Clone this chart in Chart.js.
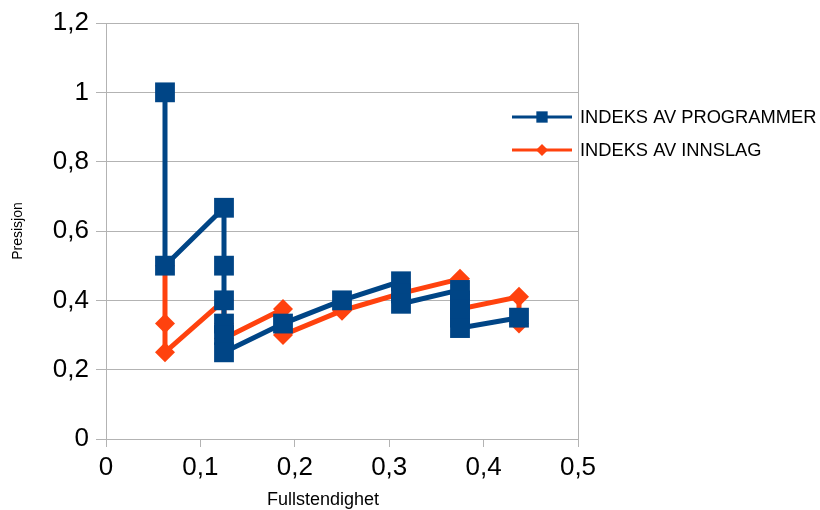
<!DOCTYPE html>
<html>
<head>
<meta charset="utf-8">
<script src="https://cdn.jsdelivr.net/npm/chart.js@4/dist/chart.umd.min.js"></script>
<style>
  html, body { margin: 0; padding: 0; background: #ffffff; }
  #wrap { width: 820px; height: 510px; }
</style>
</head>
<body>
<div id="wrap"><canvas id="c" width="820" height="510"></canvas></div>
<script>
// ---- data ----
const seriesNames = ['INDEKS AV PROGRAMMER', 'INDEKS AV INNSLAG'];

const programX = [0.0625, 0.0625, 0.125, 0.125, 0.125, 0.125, 0.125, 0.125, 0.1875, 0.25, 0.3125, 0.3125, 0.3125, 0.375, 0.375, 0.375, 0.375, 0.375, 0.4375];
const programY = [1.0, 0.5, 0.667, 0.5, 0.4, 0.333, 0.3, 0.25, 0.333, 0.4, 0.455, 0.42, 0.39, 0.43, 0.4, 0.375, 0.35, 0.32, 0.35];

const innslagX = [0.0625, 0.0625, 0.0625, 0.125, 0.125, 0.125, 0.1875, 0.1875, 0.25, 0.3125, 0.375, 0.375, 0.375, 0.4375, 0.4375];
const innslagY = [0.5, 0.333, 0.25, 0.4, 0.333, 0.29, 0.375, 0.3, 0.37, 0.42, 0.462, 0.417, 0.375, 0.41, 0.333];

const xTicks = [0, 0.1, 0.2, 0.3, 0.4, 0.5];
const xTickLabels = ['0', '0,1', '0,2', '0,3', '0,4', '0,5'];
const yTicks = [0, 0.2, 0.4, 0.6, 0.8, 1.0, 1.2];
const yTickLabels = ['0', '0,2', '0,4', '0,6', '0,8', '1', '1,2'];

const xTitle = 'Fullstendighet';
const yTitle = 'Presisjon';

// ---- styling ----
const BLUE = '#004586';
const ORANGE = '#ff420e';
const GRID = '#b3b3b3';
const FONT = '"Liberation Sans", Arial, sans-serif';

function toPoints(xs, ys) { return xs.map((x, i) => ({ x: x, y: ys[i] })); }

const legendPlugin = {
  id: 'lineLegend',
  afterDraw(chart) {
    const ctx = chart.ctx;
    const items = chart.data.datasets;
    ctx.save();
    items.forEach((ds, i) => {
      const y = 117 + i * 33;
      const x0 = 512, x1 = 572;
      ctx.strokeStyle = ds.borderColor;
      ctx.lineWidth = 3;
      ctx.beginPath();
      ctx.moveTo(x0, y);
      ctx.lineTo(x1, y);
      ctx.stroke();
      ctx.fillStyle = ds.backgroundColor;
      Chart.helpers.drawPoint(ctx, {
        pointStyle: ds.pointStyle,
        radius: ds.pointStyle === 'rect' ? 8 : 6,
        rotation: 0,
        borderWidth: 0
      }, (x0 + x1) / 2, y);
      ctx.fillStyle = '#000000';
      ctx.font = '18.3px ' + FONT;
      ctx.textBaseline = 'middle';
      ctx.textAlign = 'left';
      ctx.fillText(ds.label, 580, y + 1);
    });
    // x-axis title (sits left of the plot centre in the reference)
    ctx.font = '18px ' + FONT;
    ctx.fillStyle = '#000000';
    ctx.textAlign = 'center';
    ctx.textBaseline = 'middle';
    ctx.fillText(xTitle, 323, 500);
    ctx.restore();
  }
};

new Chart(document.getElementById('c'), {
  type: 'scatter',
  data: {
    datasets: [
      {
        label: seriesNames[0],
        data: toPoints(programX, programY),
        showLine: true,
        borderColor: BLUE,
        backgroundColor: BLUE,
        borderWidth: 5,
        pointStyle: 'rect',
        pointRadius: 14,
        pointHoverRadius: 14,
        pointBorderWidth: 0,
        tension: 0
      },
      {
        label: seriesNames[1],
        data: toPoints(innslagX, innslagY),
        showLine: true,
        borderColor: ORANGE,
        backgroundColor: ORANGE,
        borderWidth: 5,
        pointStyle: 'rectRot',
        pointRadius: 10,
        pointHoverRadius: 10,
        pointBorderWidth: 0,
        tension: 0
      }
    ]
  },
  options: {
    responsive: false,
    animation: false,
    devicePixelRatio: 1,
    layout: { padding: { left: 0, right: 242, top: 23, bottom: 0 } },
    plugins: {
      legend: { display: false },
      tooltip: { enabled: false }
    },
    scales: {
      x: {
        type: 'linear',
        min: 0,
        max: 0.5,
        afterBuildTicks: (s) => { s.ticks = xTicks.map(v => ({ value: v })); },
        afterFit: (s) => { s.height = 71; },
        ticks: {
          autoSkip: false,
          maxRotation: 0,
          padding: 5,
          color: '#000000',
          font: { family: FONT, size: 26 },
          callback: (v, i) => xTickLabels[i]
        },
        grid: {
          color: (c) => (c.tick && c.tick.value === 0.5) ? GRID : 'rgba(0,0,0,0)',
          tickColor: GRID,
          tickLength: 8,
          lineWidth: 1
        },
        border: { display: true, color: GRID, width: 1 },
        title: { display: false, text: xTitle }
      },
      y: {
        type: 'linear',
        min: 0,
        max: 1.2,
        afterBuildTicks: (s) => { s.ticks = yTicks.map(v => ({ value: v })); },
        afterFit: (s) => { s.width = 106; },
        ticks: {
          autoSkip: false,
          padding: 7,
          color: '#000000',
          font: { family: FONT, size: 26 },
          callback: (v, i) => yTickLabels[i]
        },
        grid: {
          color: GRID,
          tickColor: GRID,
          tickLength: 10,
          lineWidth: 1
        },
        border: { display: true, color: GRID, width: 1 },
        title: {
          display: true,
          text: yTitle,
          color: '#000000',
          font: { family: FONT, size: 14 },
          padding: { top: 10, bottom: 0 }
        }
      }
    }
  },
  plugins: [legendPlugin]
});
</script>
</body>
</html>
